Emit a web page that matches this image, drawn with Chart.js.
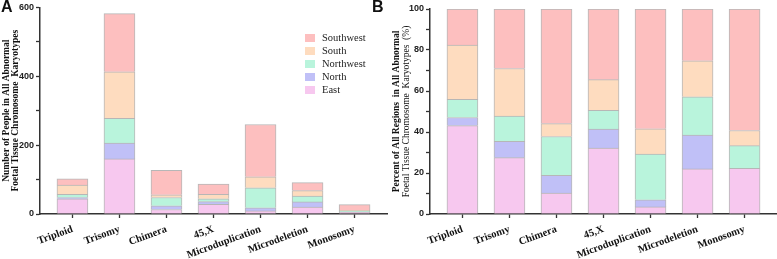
<!DOCTYPE html>
<html>
<head>
<meta charset="utf-8">
<script src="https://cdn.jsdelivr.net/npm/chart.js@4"></script>
<style>
  body { margin: 0; background: #fff; }
  #wrap { position: relative; width: 777px; height: 259px; overflow: hidden; }
  canvas { position: absolute; top: 0; }
  .tag { position: absolute; font: bold 16px "Liberation Sans", Arial, sans-serif; color: #111; }
  #legend { position: absolute; left: 305px; top: 31px; font: 10.5px "Liberation Serif", "Times New Roman", serif; color: #222; }
  #legend div { height: 13px; line-height: 13px; white-space: nowrap; }
  #legend span { display: inline-block; width: 10px; height: 8px; margin-right: 7px; vertical-align: -0.5px; }
</style>
</head>
<body>
<div id="wrap">
  <canvas id="chartA" width="390" height="259" style="left:0"></canvas>
  <canvas id="chartB" width="387" height="259" style="left:390px"></canvas>
  <div class="tag" style="left:1px;top:-2px">A</div>
  <div class="tag" style="left:372px;top:-2px">B</div>
  <div id="legend"></div>
</div>
<script>
const categories = ['Triploid', 'Trisomy', 'Chimera', '45,X', 'Microduplication', 'Microdeletion', 'Monosomy'];
const regions = ['East', 'North', 'Northwest', 'South', 'Southwest'];

// number of cases per region, bottom to top of each stack
const east      = [44, 160, 13, 28,   9, 20, 6];
const north     = [ 4,  46, 11,  8,   9, 15, 0];
const northwest = [ 9,  72, 24,  8,  58, 17, 3];
const south     = [27, 135,  8, 13,  32, 16, 2];
const southwest = [18, 169, 71, 30, 152, 23, 16];

const countsA = [east, north, northwest, south, southwest];
const colors = ['#f7c8ef', '#c0c0f7', '#b9f4dc', '#fedcbf', '#fdbfbf'];

const yTicksA = [0, 200, 400, 600];
const yTicksB = [0, 20, 40, 60, 80, 100];

// share of each region within a category (panel B)
const totals = categories.map((c, i) => countsA.reduce((s, arr) => s + arr[i], 0));
const percentB = countsA.map(arr => arr.map((v, i) => v / totals[i] * 100));

// legend (top to bottom = Southwest ... East)
const legend = document.getElementById('legend');
regions.slice().reverse().forEach((r) => {
  const i = regions.indexOf(r);
  legend.insertAdjacentHTML('beforeend', '<div><span style="background:' + colors[i] + '"></span>' + r + '</div>');
});

// leave a little room between the y axis and the first bar, like the original
const bandPad = {
  id: 'bandPad',
  afterLayout(chart) {
    const x = chart.scales.x;
    x._startValue = -0.5 - 0.19;
    x._valueRange = categories.length + 0.38;
  }
};

const yTitle = {
  id: 'yTitle',
  afterDraw(chart, args, opts) {
    const { ctx, chartArea } = chart;
    ctx.save();
    ctx.translate(opts.x, (chartArea.top + chartArea.bottom) / 2);
    ctx.rotate(-Math.PI / 2);
    ctx.textAlign = 'center';
    ctx.textBaseline = 'middle';
    ctx.fillStyle = '#111';
    opts.lines.forEach((l, i) => {
      ctx.font = l.font;
      ctx.fillText(l.text, 0, i * 9);
    });
    ctx.restore();
  }
};

function makeChart(id, data, max, step, shown, titleLines) {
  const ctx = document.getElementById(id).getContext('2d');
  return new Chart(ctx, {
    type: 'bar',
    data: {
      labels: categories,
      datasets: regions.map((r, k) => ({
        label: r,
        data: data[k],
        backgroundColor: colors[k],
        borderColor: 'rgba(175,175,175,0.9)',
        borderWidth: 1,
        barThickness: 31
      }))
    },
    options: {
      responsive: false,
      animation: false,
      devicePixelRatio: 1,
      layout: { padding: { top: max === 600 ? 7 : 9, right: max === 600 ? 3 : 0 } },
      plugins: {
        legend: { display: false },
        tooltip: { enabled: false },
        yTitle: { x: 7, lines: titleLines }
      },
      scales: {
        x: {
          stacked: true,
          offset: true,
          grid: { display: true, drawOnChartArea: false, offset: false, tickLength: 4, color: '#333', tickWidth: 1.3 },
          border: { color: '#333', width: 1.5 },
          ticks: {
            maxRotation: 20, minRotation: 20, padding: 5, color: '#111',
            font: { family: '"Liberation Serif", "Times New Roman", serif', weight: 'bold', size: 10.5 }
          },
          afterFit(s) { s.height = 45; s.paddingLeft = 0; s.paddingRight = 0; }
        },
        y: {
          stacked: true,
          min: 0,
          max: max,
          grid: { display: true, drawOnChartArea: false, tickLength: 4, color: '#333', tickWidth: 1.3 },
          border: { color: '#333', width: 1.5 },
          ticks: {
            stepSize: step, padding: 2, color: '#222',
            font: { family: '"Liberation Sans", Arial, sans-serif', weight: 'bold', size: 9 },
            callback: (v) => shown.includes(v) ? v : ''
          },
          afterFit(s) { s.width = 40; }
        }
      }
    },
    plugins: [bandPad, yTitle]
  });
}

makeChart('chartA', countsA, 600, 100, yTicksA, [
  { text: 'Number of People in All Abnormal', font: 'bold 9.5px "Liberation Serif", serif' },
  { text: 'Foetal Tissue Chromosome  Karyotypes', font: 'bold 9.5px "Liberation Serif", serif' }
]);
makeChart('chartB', percentB, 100, 10, yTicksB, [
  { text: 'Percent of All Regions  in All Abnormal', font: 'bold 9.5px "Liberation Serif", serif' },
  { text: 'Foetal Tissue Chromosome  Karyotypes  (%)', font: '9.5px "Liberation Serif", serif' }
]);
</script>
</body>
</html>
